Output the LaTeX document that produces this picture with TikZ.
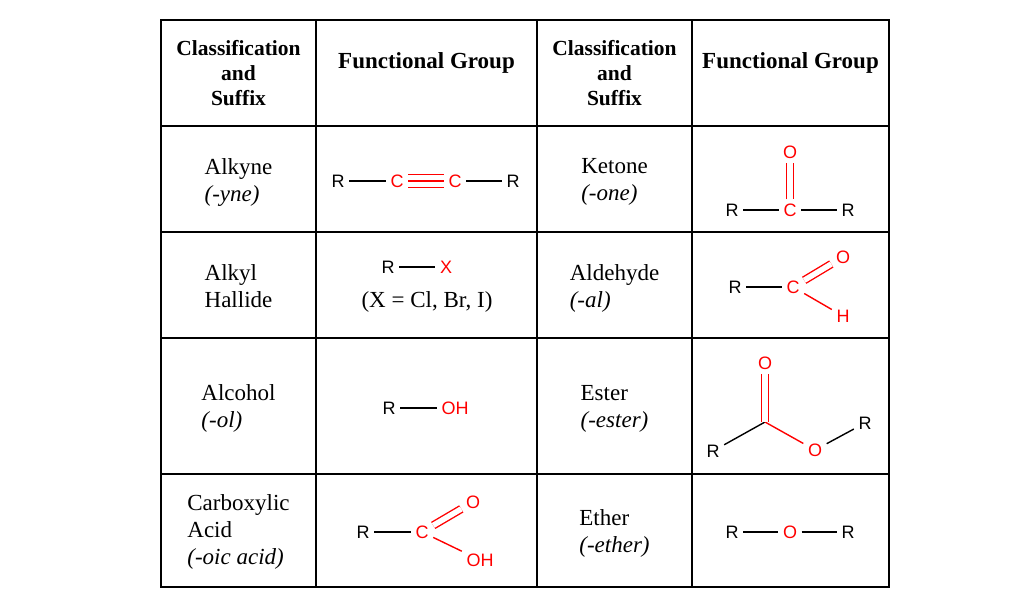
\documentclass[tikz,border=0pt]{standalone}
\usepackage{fontspec}
\setmainfont{Liberation Serif}
\setsansfont{Liberation Sans}
\begin{document}
\begin{tikzpicture}[x=1pt,y=-1pt,
  grid/.style={line width=2pt, draw=black},
  cls/.style={font=\bfseries\fontsize{21.5}{25}\selectfont, align=center, inner sep=0pt},
  hdr/.style={font=\bfseries\fontsize{23}{25}\selectfont, inner sep=0pt},
  body/.style={font=\fontsize{23}{27}\selectfont, align=left, inner sep=0pt},
  atom/.style={font=\sffamily\fontsize{18}{20}\selectfont, inner xsep=4.5pt, inner ysep=4pt, text height=12.9pt, text depth=0pt},
  ratom/.style={atom, text=red},
  bond/.style={line width=1.4pt, draw=black},
  rbond/.style={line width=1.4pt, draw=red},
  dbond/.style={rbond, double, double distance=5.5pt}
]
\useasboundingbox[fill=white] (0,0) rectangle (1024,604);
% table grid
\draw[grid] (161,20) rectangle (889,587);
\foreach \yy in {126,232,338,474} \draw[grid] (161,\yy) -- (889,\yy);
\foreach \xx in {316,537,692} \draw[grid] (\xx,20) -- (\xx,587);
% headers
\node[cls] (h1) at (238.5,72.9) {Classification\\and\\Suffix};
\node[hdr] (h2) at (426.5,62.5) {Functional Group};
\node[cls] (h3) at (614.5,72.9) {Classification\\and\\Suffix};
\node[hdr] (h4) at (790.5,62.5) {Functional Group};
% left classification column
\node[body] (c1) at (238.5,182.9) {Alkyne\\\textit{(-yne)}};
\node[body] (c2) at (238.5,286.4) {Alkyl\\Hallide};
\node[body] (c3) at (238.5,408) {Alcohol\\\textit{(-ol)}};
\node[body] (c4) at (238.5,532.4) {Carboxylic\\Acid\\\textit{(-oic acid)}};
% right classification column
\node[body] (c5) at (614.5,182) {Ketone\\\textit{(-one)}};
\node[body] (c6) at (614.5,288) {Aldehyde\\\textit{(-al)}};
\node[body] (c7) at (614.5,409) {Ester\\\textit{(-ester)}};
\node[body] (c8) at (614.5,533) {Ether\\\textit{(-ether)}};
% Alkyne
\node[atom] (R1a) at (338,181) {R};
\node[ratom] (C1a) at (397,181) {C};
\node[ratom] (C1b) at (455,181) {C};
\node[atom] (R1b) at (513,181) {R};
\draw[bond] (R1a) -- (C1a);
\draw[bond] (C1b) -- (R1b);
\draw[rbond] (C1a.east) -- (C1b.west);
\draw[rbond] ([yshift=6.5pt]C1a.east) -- ([yshift=6.5pt]C1b.west);
\draw[rbond] ([yshift=-6.5pt]C1a.east) -- ([yshift=-6.5pt]C1b.west);
% Ketone
\node[ratom] (O2) at (790,152) {O};
\node[ratom] (C2) at (790,210) {C};
\node[atom] (R2a) at (732,210) {R};
\node[atom] (R2b) at (848,210) {R};
\draw[bond] (R2a) -- (C2);
\draw[bond] (C2) -- (R2b);
\draw[dbond] (C2) -- (O2);
% Alkyl halide
\node[atom] (R3) at (388,267) {R};
\node[ratom] (X3) at (446,267) {X};
\draw[bond] (R3) -- (X3);
\node[body] (x3t) at (427,302) {(X = Cl, Br, I)};
% Aldehyde
\node[atom] (R4) at (735,287) {R};
\node[ratom] (C4) at (793,287) {C};
\node[ratom] (O4) at (843,257) {O};
\node[ratom] (H4) at (843,316) {H};
\draw[bond] (R4) -- (C4);
\draw[dbond] (C4) -- (O4);
\draw[rbond] (C4) -- (H4);
% Alcohol
\node[atom] (R5) at (389,408) {R};
\node[ratom] (OH5) at (455,408) {OH};
\draw[bond] (R5) -- (OH5);
% Ester
\node[ratom] (O6t) at (765,363) {O};
\coordinate (V6) at (765,422);
\node[atom] (R6a) at (713,451) {R};
\node[ratom] (O6) at (815,450) {O};
\node[atom] (R6b) at (865,423) {R};
\draw[bond] (R6a) -- (V6);
\draw[rbond] (V6) -- (O6);
\draw[bond] (O6) -- (R6b);
\draw[dbond] (V6) -- (O6t);
% Carboxylic acid
\node[atom] (R7) at (363,532) {R};
\node[ratom] (C7) at (422,532) {C};
\node[ratom] (O7) at (473,502) {O};
\node[ratom] (OH7) at (480,560) {OH};
\draw[bond] (R7) -- (C7);
\draw[dbond] (C7) -- (O7);
\draw[rbond] (C7) -- (OH7);
% Ether
\node[atom] (R8a) at (732,532) {R};
\node[ratom] (O8) at (790,532) {O};
\node[atom] (R8b) at (848,532) {R};
\draw[bond] (R8a) -- (O8);
\draw[bond] (O8) -- (R8b);
\end{tikzpicture}
\end{document}
